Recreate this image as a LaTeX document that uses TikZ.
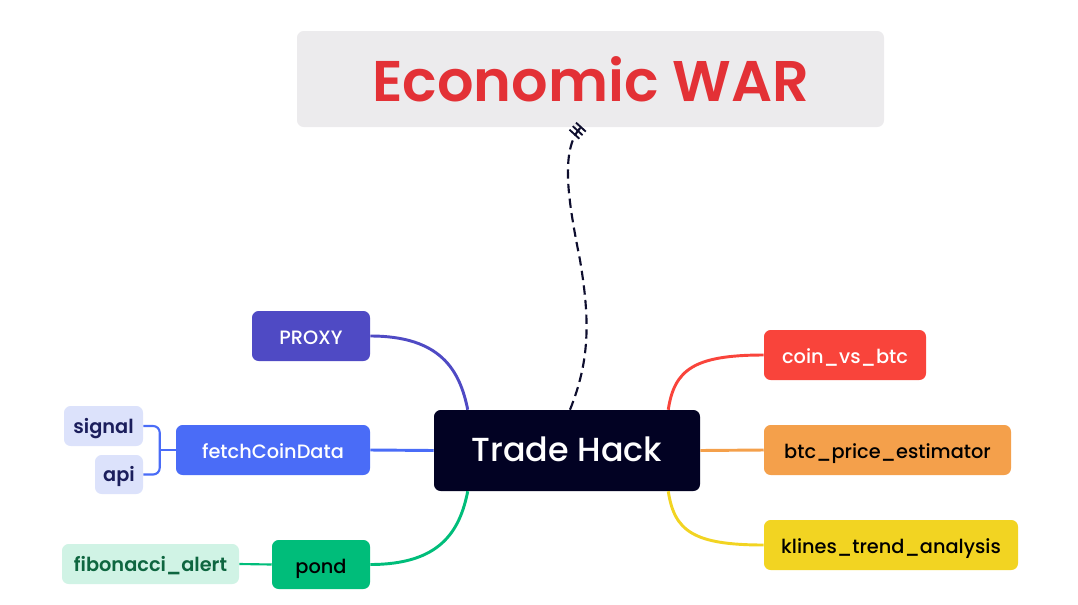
\documentclass[tikz,border=0pt]{standalone}
\usepackage{fontspec}
\setmainfont{Poppins}
\newfontfamily\pmedium{Poppins Medium}
\newfontfamily\psemi{Poppins SemiBold}
\usetikzlibrary{calc,arrows.meta}
\definecolor{titlebg}{HTML}{ECEBED}
\definecolor{titlefg}{HTML}{E33136}
\definecolor{hubbg}{HTML}{020223}
\definecolor{proxyc}{HTML}{4F4AC4}
\definecolor{fetchc}{HTML}{4A6CF7}
\definecolor{leafblue}{HTML}{DCE2FB}
\definecolor{leafbluefg}{HTML}{1B1E5C}
\definecolor{pondc}{HTML}{00BD7A}
\definecolor{leafgreen}{HTML}{D0F3E5}
\definecolor{leafgreenfg}{HTML}{0E6640}
\definecolor{coinc}{HTML}{F9443B}
\definecolor{btcc}{HTML}{F4A04B}
\definecolor{klinesc}{HTML}{F2D422}
\definecolor{linkc}{HTML}{0E0E2E}
\begin{document}
\begin{tikzpicture}[x=0.75pt,y=-0.75pt,
  box/.style 2 args={rectangle,rounded corners=5pt,inner sep=0pt,
    minimum width=#1*0.75pt,minimum height=#2*0.75pt},
  topic/.style={font=\fontsize{14.5}{18}\pmedium,text height=13pt,text depth=0pt},
  leaf/.style={font=\fontsize{14.5}{18}\psemi,text height=10.8pt,text depth=0pt},
  branch/.style={line width=2.2pt},
  tick/.tip={Bar[width=10pt,line width=1.4pt,sep=2.2pt]},
  ]
\useasboundingbox (0,0) rectangle (1078,604);

% central topic and title
\node[box={587}{96},fill=titlebg,text=titlefg,font=\fontsize{43}{50}\psemi,text height=34pt,text depth=0pt] (title) at (590.5,79) {Economic WAR};
\node[box={266}{81},fill=hubbg,text=white,font=\fontsize{25}{30}\pmedium,text height=16.8pt,text depth=0pt] (hub) at (567,450.5) {Trade Hack};

% left branches
\node[box={118}{50},fill=proxyc,text=white,topic] (proxy) at (311,336) {PROXY};
\node[box={194}{50},fill=fetchc,text=white,topic] (fetch) at (273,450) {fetchCoinData};
\node[box={98}{49},fill=pondc,text=black,topic] (pond) at (321,564.5) {pond};

\node[box={79}{40},fill=leafblue,text=leafbluefg,leaf] (signal) at (103.5,426) {signal};
\node[box={48}{39},fill=leafblue,text=leafbluefg,leaf] (api) at (119,474.5) {api};
\node[box={177}{40},fill=leafgreen,text=leafgreenfg,leaf] (fib) at (150.5,564) {fibonacci\_alert};

% right branches
\node[box={162}{50},fill=coinc,text=white,topic] (coin) at (845,355) {coin\_vs\_btc};
\node[box={247}{50},fill=btcc,text=black,topic] (btc) at (887.5,450) {btc\_price\_estimator};
\node[box={254}{50},fill=klinesc,text=black,topic] (klines) at (891,545) {klines\_trend\_analysis};

% connectors from the hub
\draw[branch,proxyc] (proxy.east) .. controls +(70,0) and ($(hub.north west)+(26,-40)$) .. ($(hub.north west)+(34,0)$);
\draw[branch,fetchc] (fetch.east) -- (hub.west);
\draw[branch,pondc] (pond.east) .. controls +(70,0) and ($(hub.south west)+(26,40)$) .. ($(hub.south west)+(34,0)$);
\draw[branch,coinc] (coin.west) .. controls +(-70,0) and ($(hub.north east)+(-26,-40)$) .. ($(hub.north east)+(-32,0)$);
\draw[branch,btcc] (btc.west) -- (hub.east);
\draw[branch,klinesc] (klines.west) .. controls +(-70,0) and ($(hub.south east)+(-26,40)$) .. ($(hub.south east)+(-32,0)$);

% sub-topic links
\draw[branch,fetchc,line width=1.6pt] (fetch.west) -- ++(-16,0) coordinate (fork);
\draw[branch,fetchc,line width=1.6pt,rounded corners=5pt] (signal.east) -| (fork) |- (api.east);
\draw[branch,pondc,line width=1.6pt] (fib.east) -- (pond.west);

% relationship link to the title
\draw[linkc,line width=1.6pt,dash pattern=on 7pt off 4pt,-{tick[]tick[]tick[]}]
  ($(hub.north)+(3,0)$) .. controls (590,360) and (590,320) .. (580,260)
  .. controls (568,200) and (560,150) .. ($(title.south)+(-7,-3)$);
\end{tikzpicture}
\end{document}
